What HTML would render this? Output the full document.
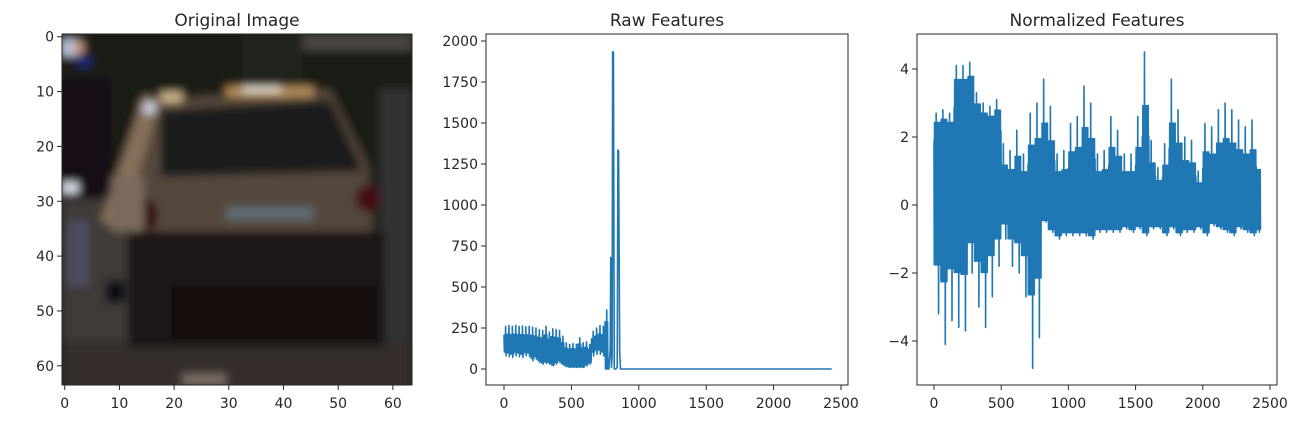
<!DOCTYPE html>
<html><head><meta charset="utf-8">
<style>
html,body{margin:0;padding:0;background:#fff;}
svg text{font-family:"DejaVu Sans","Liberation Sans",sans-serif;fill:#262626;}
</style></head>
<body>
<svg id="fig" width="1313" height="426" viewBox="0 0 1313 426" xmlns="http://www.w3.org/2000/svg">
  <defs><filter id="bl" x="-5%" y="-5%" width="110%" height="110%"><feGaussianBlur stdDeviation="0.8"/></filter>
  <clipPath id="imgclip"><rect x="62" y="34" width="350" height="351"/></clipPath></defs>
  <g id="imgpanel">
    <text x="237" y="26" font-size="17" text-anchor="middle">Original Image</text>
    <g clip-path="url(#imgclip)">
    <svg x="62" y="34" width="350" height="351" viewBox="0 0 64 64" preserveAspectRatio="none">
      <g filter="url(#bl)">
      <rect x="-2" y="-2" width="68" height="68" fill="#1e1a16"/>
      <rect x="44" y="0" width="20" height="3" fill="#4a4540"/>
      <rect x="33" y="0" width="11" height="9" fill="#24201e"/>
      <rect x="-1" y="8" width="10" height="22" fill="#131113"/>
      <rect x="0" y="30" width="14" height="34" fill="#403a39"/>
      <rect x="0" y="56" width="64" height="9" fill="#362e2c"/>
      <rect x="58" y="10" width="6" height="46" fill="#323030"/>
      <polygon points="14,12 49,10 56,24 57,37 13,37 12,25" fill="#55463a"/>
      <polygon points="18,14 49,12 55,25 18,26" fill="#1d1a1a"/>
      <polygon points="15,11 18,12 11,36 7,34" fill="#85705a"/>
      <rect x="30" y="9.5" width="16" height="2" fill="#b08a58"/>
      <rect x="33" y="9.6" width="7" height="1" fill="#e8e6da"/>
      <rect x="18" y="10.5" width="4" height="2" fill="#c8b088"/>
      <rect x="15" y="12.5" width="2" height="2" fill="#d0d4e8"/>
      <rect x="0" y="1" width="3" height="3" fill="#b8c8e2"/>
      <rect x="2" y="1.5" width="2" height="2" fill="#c89878"/>
      <rect x="0" y="27" width="3" height="2" fill="#d8e0ea"/>
      <rect x="3" y="4" width="2" height="2" fill="#1a2a80"/>
      <rect x="12" y="36" width="47" height="21" fill="#1b1918"/>
      <rect x="20" y="46" width="38" height="10" fill="#131011"/>
      <ellipse cx="15" cy="33" rx="2.5" ry="3" fill="#360e10"/>
      <ellipse cx="56" cy="30" rx="2.3" ry="2.5" fill="#440f12"/>
      <rect x="30" y="31.5" width="16" height="2.5" fill="#5e6c72"/>
      <rect x="22" y="62" width="8" height="2" fill="#7a6e66"/>
      <rect x="8" y="45" width="3.5" height="4" fill="#0a0a12"/>
      <rect x="1" y="34" width="4" height="12" fill="#504c5e"/>
      <rect x="9" y="26" width="6" height="10" fill="#7a6a5c"/>
      </g>
    </svg>
    </g>
    <rect x="62" y="34" width="350" height="351" fill="none" stroke="#262626" stroke-width="1"/>
    <g id="imgax"></g>
  </g>
  <g id="p2">
    <text x="667" y="26" font-size="17" text-anchor="middle">Raw Features</text>
  </g>
  <g id="p3">
    <text x="1097" y="26" font-size="17" text-anchor="middle">Normalized Features</text>
  </g>
</svg>
<script>
// Image axes ticks
const imgTicks = [0,10,20,30,40,50,60];
// Raw features: noisy band in bins of 25 indices from 0..775
const rawBinWidth = 25;
const rawHi = [260,265,260,265,260,262,258,260,255,250, 240,235,260,225,245,240,235,200, 160,150,155,150,190,160,165,150, 230,250,265,260,360];
const rawLo = [80,75,70,80,75,70,80,75,50,60, 40,30,35,30,20,30,40,25, 15,10,10,10,10,10,20,30, 80,90,90,80,0];
// spikes and tail (index, value)
const rawSpikeIdx = [778,788,792,797,802,806,812,818,830,840,845,850,858,864,870,2431];
const rawSpikeVal = [0,  120,680, 10, 80, 1935,1930,0, 0,  10, 1335,1330,110,0,  0,  0];
const rawXTicks = [0,500,1000,1500,2000,2500];
const rawYTicks = [0,250,500,750,1000,1250,1500,1750,2000];
// Normalized features: bins of 50 indices
const normBinWidth = 50;
const normHi = [2.7,2.8,2.7,4.1,4.1,4.2,3.3,3.0,2.9,3.1,1.8,1.6,2.2,1.5,2.7,3.0,3.7,2.9,1.5,1.6,2.4,2.6,3.5,3.0,1.5,1.6,2.6,2.2,1.5,1.5,2.6,4.5,1.9,1.1,1.8,3.7,2.8,2.0,1.9,1.0,2.4,2.3,2.8,3.0,2.8,2.5,2.3,2.5,1.6];
const normLo = [-3.2,-4.1,-3.4,-3.6,-3.7,-2.0,-3.0,-3.6,-2.7,-1.8,-1.0,-1.8,-2.0,-2.7,-4.8,-3.9,-0.5,-0.8,-1.0,-0.9,-0.9,-0.9,-0.9,-1.0,-0.8,-0.8,-0.8,-0.8,-0.7,-0.8,-0.7,-0.9,-0.7,-0.7,-0.9,-0.7,-0.9,-0.8,-0.8,-0.7,-0.9,-0.6,-0.7,-0.8,-0.9,-0.7,-0.8,-0.9,-0.8];
const normN = 2431;
const normXTicks = [0,500,1000,1500,2000,2500];
const normYTicks = [-4,-2,0,2,4];

const NS = "http://www.w3.org/2000/svg";
function mk(tag, attrs, parent){ const e=document.createElementNS(NS,tag); for(const k in attrs) e.setAttribute(k,attrs[k]); parent.appendChild(e); return e; }

// image ticks
const ig = document.getElementById('imgax');
const ix = v => 62 + (v+0.5)*350/64, iy = v => 34 + (v+0.5)*351/64;
imgTicks.forEach(t=>{
  const a=mk('line',{x1:ix(t),x2:ix(t),y1:385,y2:390,stroke:'#262626'},ig);
  
  
  const tx=mk('text',{x:ix(t),y:408,'font-size':14,'text-anchor':'middle'},ig); tx.textContent=t;
  
  
  const b=mk('line',{x1:57,x2:62,y1:iy(t),y2:iy(t),stroke:'#262626'},ig);
  
  
  const ty=mk('text',{x:54,y:iy(t)+5,'font-size':14,'text-anchor':'end'},ig); ty.textContent=t;
  
  
});

function axes(g, box, xs, ys, xt, yt, fmt){
  const f=mk('rect',{x:box.x0,y:box.y0,width:box.x1-box.x0,height:box.y1-box.y0,fill:'none',stroke:'#262626'},g);
  
  
  xt.forEach(t=>{
    const l=mk('line',{x1:xs(t),x2:xs(t),y1:box.y1,y2:box.y1+5,stroke:'#262626'},g);
    
    
    const tx=mk('text',{x:xs(t),y:408,'font-size':14,'text-anchor':'middle'},g); tx.textContent=t;
    
    
  });
  yt.forEach(t=>{
    const l=mk('line',{x1:box.x0-5,x2:box.x0,y1:ys(t),y2:ys(t),stroke:'#262626'},g);
    
    
    const ty=mk('text',{x:box.x0-8,y:ys(t)+5,'font-size':14,'text-anchor':'end'},g); ty.textContent=fmt(t);
    
    
  });
}
// Raw
const g2=document.getElementById('p2');
const b2={x0:486,x1:848,y0:34,y1:385};
const xs2=v=>504+v*(841-504)/2500, ys2=v=>369+v*(41-369)/2000;
let rp=[];
for(let i=0;i<rawHi.length;i++){
  for(let j=0;j<8;j++){ const x=i*rawBinWidth+j*3; rp.push(xs2(x)+','+ys2(j%2===0?(j===4?rawHi[i]:rawHi[i]*0.8):(j===5?rawLo[i]:rawLo[i]*1.3))); }
}
rawSpikeIdx.forEach((x,i)=>rp.push(xs2(x)+','+ys2(rawSpikeVal[i])));
const l2=mk('polyline',{points:rp.join(' '),fill:'none',stroke:'#1f77b4','stroke-width':1.6,'stroke-linejoin':'round'},g2);


axes(g2,b2,xs2,ys2,rawXTicks,rawYTicks,t=>t);
// Normalized
const g3=document.getElementById('p3');
const b3={x0:917,x1:1277,y0:34,y1:385};
const xs3=v=>934+v*(1270-934)/2500, ys3=v=>205+v*(69-205)/4;
const np=[];
for(let i=0;i<normHi.length;i++){
  const w=Math.min(normBinWidth, normN-i*normBinWidth);
  const n=Math.max(2,Math.round(w/2));
  const pk=Math.floor(n/3), tr=Math.floor(2*n/3)+1;
  const hs = i<10 ? 0.7 : 0.45;
  for(let j=0;j<n;j++){
    const x=i*normBinWidth+j*w/n;
    let v;
    if(j%2===0) v = (j===pk)? normHi[i] : normHi[i]*(hs+0.1*(j%4));
    else v = (j===tr)? normLo[i] : normLo[i]*(i<16?0.55:0.9);
    np.push(xs3(x)+','+ys3(v));
  }
}
const l3=mk('polyline',{points:np.join(' '),fill:'none',stroke:'#1f77b4','stroke-width':1.6,'stroke-linejoin':'round'},g3);


axes(g3,b3,xs3,ys3,normXTicks,normYTicks,t=>t<0?'\u2212'+(-t):t);
</script>
</body></html>
